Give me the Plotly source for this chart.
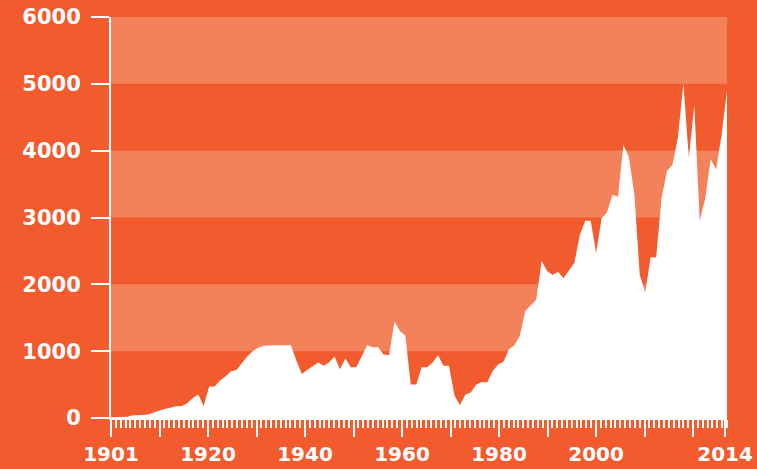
import plotly.graph_objects as go

# ---- data ----
years = list(range(1901, 2015))
values = [
    10, 10, 10, 20, 40, 40, 45, 55, 90, 115,            # 1901-1910
    140, 160, 175, 180, 220, 300, 350, 180, 470, 470,   # 1911-1920
    560, 620, 700, 720, 820, 920, 1000, 1050, 1080, 1090,  # 1921-1930
    1090, 1090, 1090, 1090, 860, 660, 720, 780, 830, 780,  # 1931-1940
    830, 920, 730, 890, 760, 760, 920, 1090, 1060, 1060,   # 1941-1950
    950, 940, 1440, 1300, 1230, 500, 500, 760, 760, 830,   # 1951-1960
    940, 780, 780, 340, 190, 350, 380, 500, 540, 530,      # 1961-1970
    700, 800, 840, 1030, 1090, 1230, 1600, 1690, 1770, 2350,  # 1971-1980
    2200, 2140, 2190, 2090, 2200, 2320, 2740, 2950, 2950, 2470,  # 1981-1990
    2990, 3080, 3340, 3310, 4090, 3900, 3350, 2140, 1880, 2410,  # 1991-2000
    2400, 3290, 3700, 3790, 4200, 5000, 3890, 4680, 2950, 3280,  # 2001-2010
    3870, 3720, 4230, 4900,                                    # 2011-2014
]

# tick scale of the decorative ruler axis (as drawn in the original)
ruler_range = [0, 127]
ruler_major = [0, 10, 20, 30, 40, 50, 60, 70, 80, 90, 100, 110, 120, 126.6]
ruler_labels = ["1901", "", "1920", "", "1940", "", "1960", "", "1980", "", "2000", "", "", "2014"]

y_ticks = [0, 1000, 2000, 3000, 4000, 5000, 6000]
bands = [(1000, 2000), (3000, 4000), (5000, 6000)]

BG = "#F15B2D"
BAND = "#F3825A"
WHITE = "#FFFFFF"
FONT = dict(family="DejaVu Sans", size=21, color=WHITE, weight="bold")
XFONT = dict(family="DejaVu Sans", size=20, color=WHITE, weight="bold")

fig = go.Figure()
fig.add_trace(go.Scatter(
    x=years, y=values, mode="lines", fill="tozeroy",
    fillcolor=WHITE, line=dict(width=0, color=WHITE),
    hoverinfo="x+y", showlegend=False,
))
fig.add_trace(go.Scatter(
    x=ruler_range, y=[None, None], xaxis="x2", mode="markers",
    showlegend=False, hoverinfo="skip",
))

for lo, hi in bands:
    fig.add_shape(type="rect", xref="paper", yref="y", x0=0, x1=1, y0=lo, y1=hi,
                  fillcolor=BAND, line=dict(width=0), layer="below")

fig.update_layout(
    width=757, height=469,
    margin=dict(l=111, r=30, t=17, b=51),
    paper_bgcolor=BG, plot_bgcolor=BG,
    showlegend=False,
    xaxis=dict(range=[years[0], years[-1]], showticklabels=False, ticks="",
               showgrid=False, zeroline=False, showline=False, fixedrange=True,
               automargin=False),
    xaxis2=dict(overlaying="x", anchor="y", side="bottom", range=ruler_range,
                tickmode="array", tickvals=ruler_major, ticktext=ruler_labels,
                ticks="outside", ticklen=17, tickwidth=2, tickcolor=WHITE,
                minor=dict(tickmode="linear", tick0=0, dtick=1, ticks="outside",
                           ticklen=8, tickwidth=2, tickcolor=WHITE, showgrid=False),
                showline=True, linecolor=WHITE, linewidth=2,
                showgrid=False, zeroline=False, tickfont=XFONT, fixedrange=True,
                ticklabelstandoff=0, automargin=False),
    yaxis=dict(range=[0, 6000], tickmode="array", tickvals=y_ticks,
               ticks="outside", ticklen=18, tickwidth=2, tickcolor=WHITE,
               showline=True, linecolor=WHITE, linewidth=2,
               showgrid=False, zeroline=False, tickfont=FONT,
               ticklabelstandoff=6, fixedrange=True, automargin=False),
)

fig.write_html(
    "out.html",
    config={"displayModeBar": False},
    post_script="document.body.style.margin='0';document.body.style.padding='0';"
                "document.body.style.overflow='hidden';",
)
